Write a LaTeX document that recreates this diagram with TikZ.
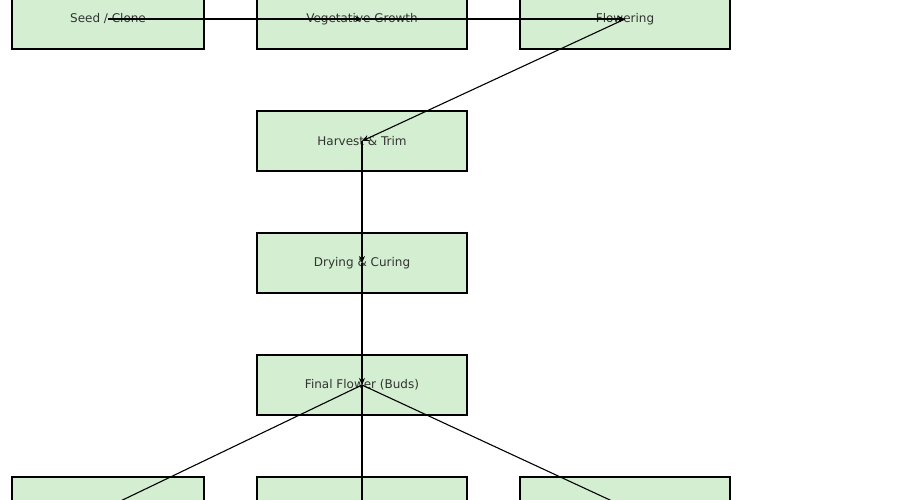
\documentclass[tikz,border=0pt]{standalone}
\usepackage{fontspec}
\setmainfont{DejaVu Sans}
\usetikzlibrary{arrows.meta}
\definecolor{stagefill}{HTML}{D3EED0}
\definecolor{stagetext}{HTML}{333333}
\tikzset{%
  stage/.style={draw=black,line width=1.6pt,fill=stagefill,minimum width=#1,
    minimum height=60pt,inner sep=0pt,text=stagetext,font=\fontsize{12pt}{14pt}\selectfont},
  stage/.default=210pt,
  flow/.style={-{Stealth[length=7pt,width=6pt]},line width=1.1pt}
}
\begin{document}
\begin{tikzpicture}[x=1pt,y=-1pt]
  \useasboundingbox (0,0) rectangle (900,500);
  \begin{scope}
    \clip (0,0) rectangle (900,500);
    % Stages
    \node[stage=192pt] (seed) at (108,19) {Seed / Clone};
    \node[stage] (veg) at (362,19) {Vegetative Growth};
    \node[stage] (flower) at (625,19) {Flowering};
    \node[stage] (harvest) at (362,141) {Harvest \& Trim};
    \node[stage] (dry) at (362,263) {Drying \& Curing};
    \node[stage] (final) at (362,385) {Final Flower (Buds)};
    \node[stage=192pt] (outa) at (108,507) {};
    \node[stage] (outb) at (362,507) {};
    \node[stage] (outc) at (625,507) {};
    % Connectors
    \draw[flow] (seed.center) -- (veg.center);
    \draw[flow] (veg.center) -- (flower.center);
    \draw[flow] (flower.center) -- (harvest.center);
    \draw[flow] (harvest.center) -- (dry.center);
    \draw[flow] (dry.center) -- (final.center);
    \draw[flow] (final.center) -- (outa.center);
    \draw[flow] (final.center) -- (outb.center);
    \draw[flow] (final.center) -- (outc.center);
  \end{scope}
\end{tikzpicture}
\end{document}
